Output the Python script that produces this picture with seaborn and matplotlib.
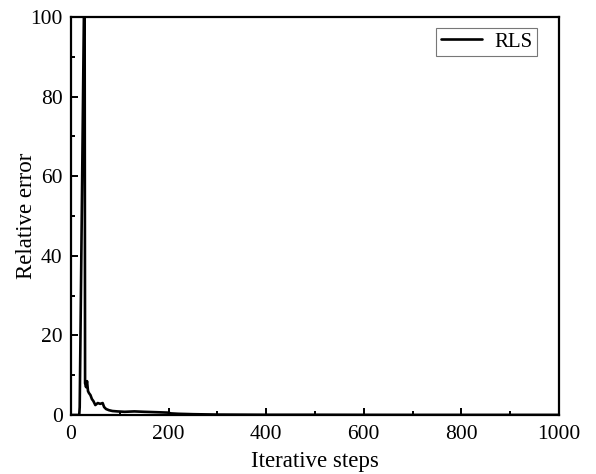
"""
Relative error of RLS versus iterative steps
"""

import matplotlib
matplotlib.use("Agg")
import matplotlib.pyplot as plt
import seaborn as sns
import pandas as pd
from matplotlib.ticker import MultipleLocator

# Values
steps = [0, 17, 18, 27, 28, 29, 31, 33, 35, 37, 40, 43, 46, 50, 55, 60, 65, 68,
         72, 78, 85, 95, 110, 130, 150, 175, 198, 205, 220, 250, 300, 400, 500,
         600, 700, 800, 900, 1000]
rel_error = [0, 0, 2, 105, 110, 8, 7, 8.5, 6, 5.5, 5, 4, 3.5, 2.5, 3, 2.8, 3, 2,
             1.5, 1.2, 1.0, 0.9, 0.8, 0.9, 0.8, 0.7, 0.6, 0.4, 0.3, 0.2, 0.1,
             0.05, 0.05, 0.03, 0.02, 0.02, 0.02, 0.02]
series_name = "RLS"

sns.set_style("white")
plt.rcParams['font.family'] = ['Liberation Serif', 'DejaVu Serif']
plt.rcParams['text.color'] = 'black'
plt.rcParams['axes.labelcolor'] = 'black'
plt.rcParams['xtick.color'] = 'black'
plt.rcParams['ytick.color'] = 'black'

df = pd.DataFrame({'step': steps, 'err': rel_error})

fig = plt.figure(figsize=(5.96, 4.74), dpi=100)
ax = fig.add_axes([0.119, 0.1245, 0.819, 0.8395])

sns.lineplot(data=df, x='step', y='err', color='black', linewidth=1.9,
             label=series_name, ax=ax)

ax.set_xlim(0, 1000)
ax.set_ylim(0, 100)
ax.xaxis.set_major_locator(MultipleLocator(200))
ax.xaxis.set_minor_locator(MultipleLocator(100))
ax.yaxis.set_major_locator(MultipleLocator(20))
ax.yaxis.set_minor_locator(MultipleLocator(10))
ax.tick_params(which='both', direction='in', bottom=True, left=True,
               top=False, right=False, labelsize=15.5, width=1.4,
               color='black', labelcolor='black')
ax.tick_params(axis='x', which='major', pad=7)
ax.tick_params(axis='y', which='major', pad=6)
ax.tick_params(which='major', length=5)
ax.tick_params(which='minor', length=3)

for s in ax.spines.values():
    s.set_linewidth(1.6)
    s.set_color('black')

ax.set_xlabel('Iterative steps', fontsize=16.5, labelpad=5)
ax.set_ylabel('Relative error', fontsize=16.5, labelpad=-5)

leg = ax.legend(loc='upper right', bbox_to_anchor=(0.955, 0.973),
                borderaxespad=0, fontsize=15, frameon=True, fancybox=False,
                handlelength=2.0, borderpad=0.2, handletextpad=0.6)
leg.get_frame().set_edgecolor('#555555')
leg.get_frame().set_linewidth(0.8)

fig.savefig('out.png', dpi=100, facecolor='white')
